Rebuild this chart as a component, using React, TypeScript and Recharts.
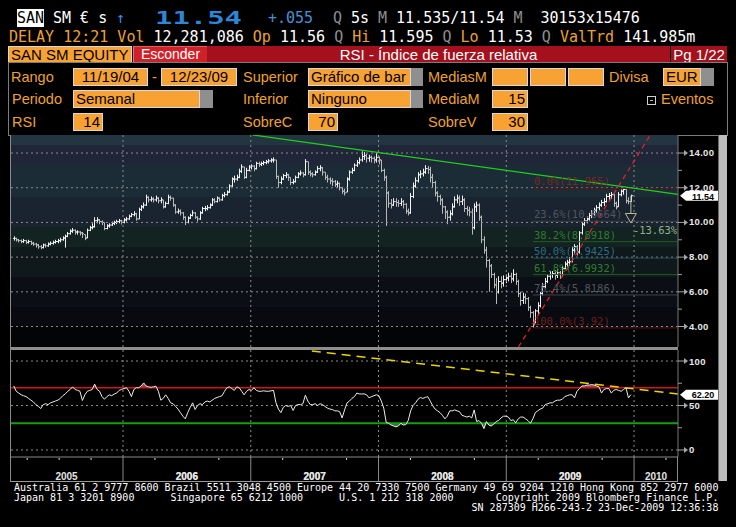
import React from "react";
import {
  ComposedChart, Bar, Line, Area, XAxis, YAxis, ReferenceLine, ReferenceDot,
} from "recharts";

// weekly bars, first one 2005-02-23, last one 2009-12-23
const FIRST_WEEK = "2005-02-23";

const close = [
  9.08, 9.0, 8.95, 8.9, 8.95, 8.85, 8.9, 8.8, 8.75, 8.7,
  8.6, 8.55, 8.7, 8.65, 8.75, 8.8, 8.85, 8.9, 8.95, 9.0,
  9.1, 9.2, 9.35, 9.5, 9.55, 9.45, 9.45, 9.4, 9.35, 9.1,
  9.55, 9.7, 9.75, 10.1, 10.15, 10.05, 10.0, 9.65, 9.8, 9.85,
  9.95, 10.0, 10.05, 10.1, 10.0, 10.15, 10.2, 10.35, 10.45, 10.5,
  10.2, 10.75, 10.9, 11.0, 11.45, 11.3, 11.35, 11.3, 11.4, 11.25,
  11.3, 10.9, 11.1, 11.45, 11.4, 11.0, 10.6, 10.65, 10.55, 10.3,
  10.0, 10.25, 10.4, 10.55, 10.3, 10.2, 10.55, 10.8, 10.8, 10.85,
  11.0, 11.3, 11.2, 11.4, 11.3, 11.55, 11.6, 11.75, 12.1, 12.5,
  12.5, 12.6, 12.95, 13.2, 12.6, 13.0, 13.2, 13.25, 13.1, 13.4,
  13.35, 13.4, 13.45, 13.5, 13.55, 13.6, 13.6, 12.65, 12.3, 12.5,
  12.7, 12.75, 12.6, 12.3, 12.35, 12.6, 12.8, 12.85, 12.75, 13.5,
  12.9, 12.8, 12.75, 12.9, 13.1, 13.15, 12.9, 12.6, 12.5, 12.4,
  12.35, 12.2, 12.25, 12.0, 11.8, 11.7, 12.5, 12.9, 13.0, 13.3,
  13.45, 13.6, 13.8, 13.85, 13.7, 13.75, 13.7, 13.6, 13.75, 13.6,
  13.0, 12.6, 11.7, 11.1, 11.0, 11.2, 11.15, 11.1, 11.2, 11.05,
  10.65, 10.55, 11.5, 12.1, 12.4, 12.75, 12.8, 12.9, 13.1, 13.05,
  12.6, 12.3, 11.7, 11.5, 11.3, 10.9, 10.6, 10.3, 10.5, 10.9,
  11.3, 11.4, 11.2, 11.3, 10.8, 10.7, 10.6, 9.7, 10.9, 11.0,
  10.3, 9.0, 8.4, 7.8, 7.5, 7.0, 6.4, 6.0, 6.6, 6.5,
  6.7, 6.8, 6.9, 6.75, 7.0, 6.6, 5.9, 5.5, 5.7, 5.6,
  5.1, 4.8, 4.1, 4.9, 5.2, 5.9, 6.3, 6.6, 6.9, 7.0,
  7.05, 6.95, 7.1, 7.0, 7.35, 7.6, 7.7, 7.75, 8.4, 8.6,
  8.3, 9.4, 9.9, 10.1, 10.2, 10.4, 10.5, 10.7, 10.85, 11.0,
  11.15, 11.2, 11.5, 11.55, 11.6, 11.1, 10.9, 11.6, 11.8, 11.9,
  11.25, 11.2, 11.54,
];

const high = [
  9.2, 9.12, 9.05, 9.02, 9.05, 9.0, 9.0, 8.95, 8.88, 8.82,
  8.75, 8.7, 8.78, 8.78, 8.85, 8.9, 8.95, 9.0, 9.05, 9.12,
  9.2, 9.3, 9.45, 9.6, 9.68, 9.6, 9.55, 9.5, 9.45, 9.3,
  9.65, 9.8, 9.95, 10.3, 10.3, 10.2, 10.12, 10.0, 9.9, 9.95,
  10.05, 10.1, 10.15, 10.2, 10.15, 10.25, 10.32, 10.45, 10.55, 10.65,
  10.55, 10.85, 11.0, 11.15, 11.6, 11.5, 11.5, 11.45, 11.55, 11.45,
  11.45, 11.3, 11.2, 11.6, 11.55, 11.42, 11.05, 10.8, 10.75, 10.6,
  10.35, 10.35, 10.5, 10.7, 10.6, 10.35, 10.65, 10.9, 10.95, 11.0,
  11.1, 11.4, 11.4, 11.5, 11.45, 11.65, 11.75, 11.85, 12.2, 12.6,
  12.7, 12.75, 13.1, 13.35, 13.2, 13.15, 13.3, 13.35, 13.3, 13.5,
  13.5, 13.5, 13.55, 13.6, 13.65, 13.7, 13.75, 13.6, 12.7, 12.65,
  12.8, 12.9, 12.8, 12.6, 12.5, 12.7, 12.9, 13.0, 12.9, 13.65,
  13.5, 13.0, 12.9, 13.0, 13.25, 13.3, 13.2, 12.9, 12.75, 12.6,
  12.55, 12.45, 12.4, 12.3, 12.05, 11.95, 12.6, 13.0, 13.15, 13.4,
  13.6, 13.75, 14.1, 14.05, 13.95, 13.9, 13.85, 13.8, 14.0, 13.8,
  13.6, 13.1, 12.7, 11.8, 11.35, 11.4, 11.4, 11.3, 11.4, 11.3,
  11.1, 10.8, 11.7, 12.3, 12.6, 12.9, 13.0, 13.1, 13.3, 13.25,
  13.2, 12.8, 12.4, 11.8, 11.6, 11.4, 10.95, 10.7, 10.7, 11.1,
  11.5, 11.6, 11.55, 11.55, 11.4, 10.95, 10.9, 10.8, 11.1, 11.2,
  11.1, 10.4, 9.2, 8.6, 7.9, 7.6, 7.1, 6.8, 6.9, 6.9,
  6.95, 7.0, 7.1, 7.1, 7.3, 7.1, 6.7, 6.0, 5.95, 5.9,
  5.7, 5.2, 4.9, 5.0, 5.4, 6.0, 6.5, 6.8, 7.0, 7.2,
  7.2, 7.25, 7.3, 7.2, 7.5, 7.75, 7.85, 8.0, 8.6, 8.75,
  8.7, 9.5, 10.05, 10.25, 10.35, 10.55, 10.7, 10.85, 11.0, 11.15,
  11.3, 11.4, 11.65, 11.7, 11.75, 11.65, 11.2, 11.75, 11.9, 11.965,
  11.9, 11.45, 11.6,
];

const low = [
  8.95, 8.9, 8.85, 8.8, 8.82, 8.75, 8.78, 8.7, 8.65, 8.55,
  8.48, 8.45, 8.5, 8.55, 8.6, 8.68, 8.72, 8.78, 8.8, 8.85,
  8.95, 8.55, 9.15, 9.3, 9.4, 9.3, 9.3, 9.25, 9.1, 8.98,
  9.1, 9.5, 9.6, 9.7, 9.95, 9.9, 9.85, 9.55, 9.6, 9.7,
  9.8, 9.85, 9.9, 9.95, 9.88, 9.95, 10.05, 10.15, 10.3, 10.35,
  10.1, 10.2, 10.65, 10.8, 10.95, 11.15, 11.2, 11.15, 11.2, 11.1,
  11.1, 10.8, 10.85, 11.05, 11.25, 10.9, 10.5, 10.5, 10.4, 10.15,
  9.85, 9.95, 10.2, 10.35, 10.2, 10.05, 10.15, 10.5, 10.65, 10.7,
  10.8, 10.95, 11.1, 11.15, 11.2, 11.25, 11.45, 11.55, 11.7, 12.05,
  12.3, 12.4, 12.55, 12.85, 12.5, 12.55, 12.95, 13.05, 12.95, 13.05,
  13.2, 13.25, 13.3, 13.35, 13.4, 13.45, 13.45, 12.5, 12.0, 12.2,
  12.45, 12.55, 12.4, 12.15, 12.2, 12.3, 12.55, 12.7, 12.6, 12.7,
  12.75, 12.65, 12.6, 12.7, 12.85, 12.95, 12.7, 12.45, 12.3, 12.2,
  12.1, 12.05, 12.0, 11.85, 11.65, 11.55, 11.75, 12.4, 12.8, 12.95,
  13.2, 13.35, 13.5, 13.6, 13.45, 13.5, 13.45, 13.4, 13.45, 13.35,
  12.9, 12.4, 9.8, 10.85, 10.8, 10.95, 10.9, 10.9, 10.95, 10.8,
  10.5, 10.4, 10.5, 11.4, 12.0, 12.3, 12.55, 12.65, 12.8, 12.8,
  12.3, 12.0, 11.5, 11.2, 11.0, 10.5, 10.2, 9.9, 10.1, 10.4,
  10.85, 11.1, 10.95, 11.0, 10.6, 10.4, 10.35, 9.3, 9.6, 10.6,
  10.1, 8.8, 8.2, 7.4, 6.0, 6.8, 6.2, 5.3, 5.9, 6.2,
  6.3, 6.5, 6.6, 6.5, 6.6, 6.4, 5.7, 5.2, 5.3, 5.3,
  4.9, 4.5, 3.92, 4.2, 4.7, 5.1, 5.8, 6.2, 6.5, 6.7,
  6.8, 6.7, 6.8, 6.75, 6.9, 7.3, 7.45, 7.5, 7.7, 8.2,
  8.1, 8.2, 9.3, 9.8, 9.95, 10.1, 10.25, 10.4, 10.55, 10.7,
  10.9, 10.95, 11.15, 11.3, 11.35, 10.9, 10.75, 10.9, 11.5, 11.6,
  11.1, 11.05, 11.2,
];

const rsi = [
  72, 66, 64, 62, 61, 60, 58, 56, 54, 51,
  49, 46.6, 51, 52, 51, 53, 54, 55, 56, 58,
  61, 63, 66, 68, 71, 68, 67, 66, 55.6, 62,
  66, 67, 68, 74, 68, 66, 60, 57, 60, 62,
  61, 63, 64, 67, 68, 69, 70, 66, 60, 68,
  70, 70, 72, 75.4, 72, 71, 70.5, 71, 71.7, 66,
  56, 58, 62, 58, 53, 52, 49, 46, 42, 38,
  35, 42, 48, 53, 45.5, 50, 52, 51, 54, 55,
  54, 56, 58, 59, 60, 61, 66, 70, 71, 69,
  67, 71, 70, 66, 62, 66, 68, 67, 70, 67,
  66, 66, 66.5, 66, 66, 66.5, 67, 53, 46, 42,
  48, 50, 49, 50, 44.4, 50, 51, 51, 52, 61.6,
  55, 51, 51, 52, 50, 52, 51, 49, 47, 46,
  45.5, 44, 44, 43, 36, 45, 53, 55, 58, 60,
  64, 63, 63, 63, 62, 58.6, 60, 61, 62, 61,
  55, 47, 31, 30, 28, 27, 26, 27, 30, 28,
  28.5, 33, 44, 50, 53, 57, 59, 58, 59, 60,
  55, 50, 46, 44, 42, 39, 35, 38, 44, 44,
  45, 44, 43, 39, 38, 37, 38, 36, 45, 32,
  33, 30, 24, 32, 28, 27, 29, 32, 33, 36,
  38, 38, 37, 33, 34, 30.5, 35, 37, 37, 35,
  33, 30, 35, 42, 44, 46, 47, 51, 52, 53,
  53, 55, 56, 56, 57, 60, 61, 62, 62, 58.6,
  66, 69, 72, 72, 73, 73, 73.5, 73, 72, 71,
  64, 68, 69, 69, 64, 67, 68, 67, 66, 68,
  70, 58.6, 62.2,
];

const YEAR_LINES = [2006, 2007, 2008, 2009, 2010];
const YEAR_LABELS = ["2005", "2006", "2007", "2008", "2009", "2010"];
const PRICE_GRID = [4, 6, 8, 10, 12, 14];
const PRICE_TICKS = [4, 5, 6, 7, 8, 9, 10, 11, 12, 13, 14];
const RSI_GRID = [0, 50, 100];
const RSI_TICKS = [0, 25, 50, 75, 100];
const RSI_OVER = 70;
const RSI_UNDER = 30;
const FIB_HIGH = 11.965;
const FIB_LOW = 3.92;
const FIB_RATIOS = [0, 23.6, 38.2, 50, 61.8, 76.4, 100];
const FIB_LINE = ["#5e1212", "#3c4249", "#1d5e1d", "#23485a", "#1d5e1d", "#3c4249", "#5e1212"];
const FIB_TEXT = ["#7c2620", "#4f565e", "#2e7c2e", "#2b6c86", "#2e7c2e", "#4f565e", "#6e1e1c"];
const DROP_PCT = -13.63;
// trend lines: [decimal year, value]
const RESIST = [[2007.017, 15.04], [2010.344, 11.62]];
const SUPPORT = [[2009.095, 2.82], [2010.127, 15.04]];
const RSI_RESIST = [[2007.478, 111.2], [2010.344, 62.9]];

const X_DOMAIN: [number, number] = [2005.1155, 2010.344];
const P_DOMAIN: [number, number] = [2.82, 15.04];
const R_DOMAIN: [number, number] = [-7.9, 112.4];

const MONO = '"DejaVu Sans Mono", monospace';
const SANS = '"Liberation Sans", Arial, sans-serif';
const AMBER = "#eca22f";
const ORANGE = "#f8a234";
const QGRAY = "#8e8e8e";

function decYear(ms: number) {
  const y = new Date(ms).getUTCFullYear();
  const a = Date.UTC(y, 0, 1);
  const b = Date.UTC(y + 1, 0, 1);
  return y + (ms - a) / (b - a);
}

const t0 = Date.parse(FIRST_WEEK + "T00:00:00Z");
const data = close.map((c, i) => ({
  t: decYear(t0 + i * 7 * 86400000),
  close: c,
  open: i ? close[i - 1] : c,
  hi: high[i],
  lo: low[i],
  range: [low[i], high[i]],
  rsi: rsi[i],
  over: [RSI_OVER, Math.max(rsi[i], RSI_OVER)],
  under: [Math.min(rsi[i], RSI_UNDER), RSI_UNDER],
}));

const last = data[data.length - 1];
const lowIdx = low.indexOf(Math.min(...low));
const tLow = data[lowIdx].t;
const dropTarget = last.close * (1 + DROP_PCT / 100);

const fib = FIB_RATIOS.map((r, i) => {
  const v = FIB_HIGH - ((FIB_HIGH - FIB_LOW) * r) / 100;
  return { v, label: `${r.toFixed(1)}%(${String(Number(v.toFixed(4)))})`, line: FIB_LINE[i], text: FIB_TEXT[i] };
});

const bounds = [X_DOMAIN[0], ...YEAR_LINES, X_DOMAIN[1]];
const labelPos = YEAR_LABELS.map((label, i) => ({ label, t: (bounds[i] + bounds[i + 1]) / 2 }));
const quarterTicks: number[] = [];
[2005, 2006, 2007, 2008, 2009, 2010].forEach((y) =>
  [0.25, 0.5, 0.75].forEach((q) => {
    if (y + q > X_DOMAIN[0] && y + q < X_DOMAIN[1]) quarterTicks.push(y + q);
  })
);
const timeTicks = [...YEAR_LINES, ...quarterTicks, ...labelPos.map((l) => l.t)];

function OhlcShape(props: any) {
  const { x, y, width, height, payload } = props;
  if (x == null || y == null) return null;
  const top = Math.min(y, y + height);
  const h = Math.abs(height);
  const cx = Math.round(x + width / 2) + 0.5;
  const span = payload.hi - payload.lo || 1;
  const at = (v: number) => top + ((payload.hi - Math.min(Math.max(v, payload.lo), payload.hi)) / span) * h;
  const col = payload.close >= payload.open ? "#f2f2f2" : "#b9b9b9";
  return (
    <path
      d={`M${cx},${top}V${top + Math.max(h, 1)}M${cx - 1.5},${at(payload.open)}H${cx}M${cx},${at(payload.close)}H${cx + 1.5}`}
      stroke={col}
      strokeWidth={1}
      fill="none"
    />
  );
}

function PriceTick(p: any) {
  const { x, y, payload } = p;
  const v = payload.value as number;
  if (v % 2) return <line x1={x} x2={x + 4} y1={y} y2={y} stroke="#9a9a9a" />;
  return (
    <g>
      <path d={`M${x},${y}H${x + 8}`} stroke="#a5a5a5" />
      <path d={`M${x + 6},${y - 3}L${x + 10},${y}L${x + 6},${y + 3}Z`} fill="#a5a5a5" />
      <text x={x + 11} y={y + 3} fill="#e8e8e8" fontSize={9.5} fontWeight="bold" fontFamily={SANS} letterSpacing={0.3}>
        {v.toFixed(2)}
      </text>
    </g>
  );
}

function RsiTick(p: any) {
  const { x, y, payload } = p;
  const v = payload.value as number;
  if (v % 50) return <line x1={x} x2={x + 4} y1={y} y2={y} stroke="#9a9a9a" />;
  return (
    <g>
      <path d={`M${x},${y}H${x + 8}`} stroke="#a5a5a5" />
      <path d={`M${x + 6},${y - 3}L${x + 10},${y}L${x + 6},${y + 3}Z`} fill="#a5a5a5" />
      <text x={x + 11} y={y + 3.5} fill="#e8e8e8" fontSize={9.5} fontWeight="bold" fontFamily={SANS} letterSpacing={0.3}>
        {v}
      </text>
    </g>
  );
}

function TimeTick(p: any) {
  const { x, y, payload } = p;
  const v = payload.value as number;
  if (YEAR_LINES.includes(v)) return <line x1={x} x2={x} y1={y} y2={y + 25} stroke="#8a8a8a" />;
  const lab = labelPos.find((l) => l.t === v);
  if (lab)
    return (
      <text x={x} y={y + 23} textAnchor="middle" fill="#e4e4e4" fontSize={10} fontWeight="bold" fontFamily={SANS}>
        {lab.label}
      </text>
    );
  return <line x1={x} x2={x} y1={y + 1} y2={y + 3} stroke="#dcdcdc" />;
}

const tag = (text: string, dy: number) => (p: any) => {
  const { cx, cy } = p;
  return (
    <g>
      <path d={`M${cx + 2},${cy}L${cx + 8},${cy - 5}H${cx + 40}V${cy + 5}H${cx + 8}Z`} fill="#ffffff" />
      <text x={cx + 25} y={cy + dy} textAnchor="middle" fill="#000" fontSize={9} fontWeight="bold" fontFamily={SANS}>
        {text}
      </text>
    </g>
  );
};

const dotGrid = { stroke: "#8c8c8c", strokeDasharray: "2 3", strokeWidth: 1 };

function PriceChart() {
  return (
    <ComposedChart width={720} height={212} data={data} margin={{ top: 0, right: 2, bottom: 0, left: 10 }}>
      <XAxis type="number" dataKey="t" domain={X_DOMAIN} allowDataOverflow hide />
      <YAxis
        orientation="right" type="number" width={40} domain={P_DOMAIN} allowDataOverflow
        ticks={PRICE_TICKS} interval={0} tick={PriceTick} tickLine={false} tickSize={0} tickMargin={0}
        axisLine={{ stroke: "#777" }}
      />
      {PRICE_GRID.map((v) => <ReferenceLine key={"h" + v} y={v} {...dotGrid} />)}
      {YEAR_LINES.map((v) => <ReferenceLine key={"v" + v} x={v} {...dotGrid} />)}
      {fib.map((f) => (
        <ReferenceLine key={"f" + f.v} segment={[{ x: tLow, y: f.v }, { x: X_DOMAIN[1], y: f.v }]} stroke={f.line} strokeWidth={1} />
      ))}
      {fib.map((f) => (
        <ReferenceDot
          key={"fl" + f.v} x={tLow} y={f.v} r={0}
          shape={(p: any) => (
            <text x={p.cx + 1} y={p.cy - 3} fill={f.text} fontSize={10.5} fontFamily={MONO}>{f.label}</text>
          )}
        />
      ))}
      <Bar dataKey="range" barSize={2} shape={OhlcShape} isAnimationActive={false} />
      <ReferenceLine
        segment={[{ x: RESIST[0][0], y: RESIST[0][1] }, { x: RESIST[1][0], y: RESIST[1][1] }]}
        stroke="#1fcf1f" strokeWidth={1.3} ifOverflow="hidden"
      />
      <ReferenceLine
        segment={[{ x: SUPPORT[0][0], y: SUPPORT[0][1] }, { x: SUPPORT[1][0], y: SUPPORT[1][1] }]}
        stroke="#e22020" strokeWidth={1.3} strokeDasharray="5 4" ifOverflow="hidden"
      />
      <ReferenceLine segment={[{ x: last.t, y: last.close }, { x: last.t, y: dropTarget }]} stroke="#b7bd92" strokeWidth={1} />
      <ReferenceDot
        x={last.t} y={dropTarget} r={0} ifOverflow="visible"
        shape={(p: any) => (
          <g>
            <path d={`M${p.cx},${p.cy}L${p.cx - 5.5},${p.cy - 9.5}H${p.cx + 5.5}Z`} fill="#1a2431" stroke="#b7bd92" strokeWidth={1} />
            <text x={p.cx + 2} y={p.cy + 11} fill="#92b08c" fontSize={10.5} fontFamily={MONO}>{`${DROP_PCT}%`}</text>
          </g>
        )}
      />
      <ReferenceDot x={X_DOMAIN[1]} y={last.close} r={0} ifOverflow="visible" shape={tag(last.close.toFixed(2), 4.5)} />
    </ComposedChart>
  );
}

function RsiChart() {
  return (
    <ComposedChart width={720} height={132} data={data} margin={{ top: 0, right: 2, bottom: 0, left: 10 }}>
      <XAxis
        type="number" dataKey="t" domain={X_DOMAIN} allowDataOverflow ticks={timeTicks} interval={0}
        tick={TimeTick} tickLine={false} tickSize={0} tickMargin={0} height={25} axisLine={{ stroke: "#8a8a8a" }}
      />
      <YAxis
        orientation="right" type="number" width={40} domain={R_DOMAIN} allowDataOverflow
        ticks={RSI_TICKS} interval={0} tick={RsiTick} tickLine={false} tickSize={0} tickMargin={0}
        axisLine={{ stroke: "#777" }}
      />
      {RSI_GRID.map((v) => <ReferenceLine key={"h" + v} y={v} {...dotGrid} />)}
      {YEAR_LINES.map((v) => <ReferenceLine key={"v" + v} x={v} {...dotGrid} />)}
      <Area dataKey="over" type="linear" fill="#a5504c" fillOpacity={0.9} stroke="none" isAnimationActive={false} />
      <Area dataKey="under" type="linear" fill="#2c8c2c" fillOpacity={0.9} stroke="none" isAnimationActive={false} />
      <ReferenceLine y={RSI_OVER} stroke="#d41414" strokeWidth={1.5} />
      <ReferenceLine y={RSI_UNDER} stroke="#13a013" strokeWidth={2} />
      <Line dataKey="rsi" type="linear" stroke="#ececec" strokeWidth={1} dot={false} isAnimationActive={false} />
      <ReferenceLine
        segment={[{ x: RSI_RESIST[0][0], y: RSI_RESIST[0][1] }, { x: RSI_RESIST[1][0], y: RSI_RESIST[1][1] }]}
        stroke="#e8d400" strokeWidth={1.5} strokeDasharray="9 6" ifOverflow="hidden"
      />
      <ReferenceDot x={X_DOMAIN[1]} y={last.rsi} r={0} ifOverflow="visible" shape={tag(last.rsi.toFixed(2), 3.3)} />
    </ComposedChart>
  );
}

const abs = (left: number, top: number, extra: React.CSSProperties = {}): React.CSSProperties => ({
  position: "absolute", left, top, whiteSpace: "pre", ...extra,
});

function Lbl({ x, y, children }: { x: number; y: number; children: React.ReactNode }) {
  return <div style={abs(x, y, { color: AMBER, fontFamily: SANS, fontSize: 14.5, lineHeight: "18px" })}>{children}</div>;
}

function Field({ x, y, w, text = "", align = "left", drop = 0 }: { x: number; y: number; w: number; text?: string; align?: any; drop?: number }) {
  return (
    <>
      <div
        style={abs(x, y, {
          width: w, height: 18, boxSizing: "border-box", background: ORANGE, border: "1px solid #d8d8d8",
          color: "#000", fontFamily: SANS, fontSize: 15, lineHeight: "16px", textAlign: align,
          padding: "0 2px", overflow: "hidden",
        })}
      >
        {text}
      </div>
      {drop ? <div style={abs(x + w, y, { width: drop, height: 18, background: "#8f8f8f" })} /> : null}
    </>
  );
}

const headerMono: React.CSSProperties = { fontFamily: MONO, fontSize: 15, lineHeight: "18px" };

export default function App() {
  return (
    <div style={{ position: "fixed", left: 0, top: 0, width: 736, height: 527, background: "#000", overflow: "hidden" }}>
      {/* quote lines */}
      <div style={abs(17, 9, { ...headerMono, width: 27, height: 18, background: "#fff", color: "#000" })}>SAN</div>
      <div style={abs(53, 9, { ...headerMono, color: "#fff" })}>SM € s</div>
      <div style={abs(116, 9, { ...headerMono, color: "#3d8fe0" })}>↑</div>
      <div
        style={abs(155, 9, {
          fontFamily: MONO, fontSize: 17, lineHeight: "18px", fontWeight: "bold", color: "#2d86d8",
          transform: "scaleX(1.7)", transformOrigin: "left top",
        })}
      >
        11.54
      </div>
      <div style={abs(268, 9, { ...headerMono, color: "#4a90d8" })}>+.055</div>
      <div style={abs(333, 9, { ...headerMono, color: "#fff" })}>
        <span style={{ color: QGRAY }}>Q</span> 5s
      </div>
      <div style={abs(378, 9, { ...headerMono, color: "#fff" })}>
        <span style={{ color: QGRAY }}>M</span> 11.535/11.54 <span style={{ color: QGRAY }}>M</span>  30153x15476
      </div>
      <div style={abs(9, 27.5, { ...headerMono, color: "#fff" })}>
        <span style={{ color: AMBER }}>DELAY 12:21 Vol </span>12,281,086 <span style={{ color: AMBER }}>Op </span>11.56{" "}
        <span style={{ color: QGRAY }}>Q </span><span style={{ color: AMBER }}>Hi </span>11.595{" "}
        <span style={{ color: QGRAY }}>Q </span><span style={{ color: AMBER }}>Lo </span>11.53{" "}
        <span style={{ color: QGRAY }}>Q </span><span style={{ color: AMBER }}>ValTrd </span>141.985m
      </div>

      {/* title bar */}
      <div
        style={abs(8, 46, {
          width: 124, height: 17, boxSizing: "border-box", background: ORANGE, border: "1px solid #d8d8d8",
          fontFamily: SANS, fontSize: 15, lineHeight: "15px", color: "#000", paddingLeft: 2,
        })}
      >
        SAN SM EQUITY
      </div>
      <div
        style={abs(133, 46, {
          width: 74, height: 17, boxSizing: "border-box", background: "#cf2129", borderLeft: "1px solid #f07070",
          borderTop: "1px solid #e85a5a", fontFamily: SANS, fontSize: 14, lineHeight: "15px", color: "#fff", textAlign: "center",
        })}
      >
        Esconder
      </div>
      <div
        style={abs(207, 46, {
          width: 463, height: 17, background: "#a4111d", fontFamily: SANS, fontSize: 15, lineHeight: "17px",
          color: "#fff", textAlign: "center",
        })}
      >
        RSI - Índice de fuerza relativa
      </div>
      <div
        style={abs(671, 46, {
          width: 56, height: 17, background: "#a4111d", fontFamily: SANS, fontSize: 15, lineHeight: "17px",
          color: "#fff", textAlign: "center",
        })}
      >
        Pg 1/22
      </div>

      {/* settings form */}
      <div style={abs(8, 62, { width: 718, height: 72, border: "1px solid #7c7c7c" })} />
      <Lbl x={11} y={68}>Rango</Lbl>
      <Field x={73} y={68} w={75} text="11/19/04" align="center" />
      <Lbl x={152} y={68}>-</Lbl>
      <Field x={161} y={68} w={76} text="12/23/09" align="center" />
      <Lbl x={243} y={68}>Superior</Lbl>
      <Field x={308} y={68} w={103} text="Gráfico de bar" drop={12} />
      <Lbl x={428} y={68}>MediasM</Lbl>
      <Field x={492} y={68} w={36} />
      <Field x={530} y={68} w={36} />
      <Field x={568} y={68} w={36} />
      <Lbl x={609} y={68}>Divisa</Lbl>
      <Field x={663} y={68} w={38} text="EUR" drop={13} />

      <Lbl x={12} y={90}>Periodo</Lbl>
      <Field x={73} y={90} w={127} text="Semanal" drop={13} />
      <Lbl x={243} y={90}>Inferior</Lbl>
      <Field x={308} y={90} w={103} text="Ninguno" drop={12} />
      <Lbl x={428} y={90}>MediaM</Lbl>
      <Field x={492} y={90} w={36} text="15" align="right" />
      <div style={abs(647, 96, { width: 9, height: 9, boxSizing: "border-box", border: "1px solid #d0d0d0" })}>
        <div style={abs(2, 3, { width: 3, height: 1, background: "#bbb" })} />
      </div>
      <Lbl x={661} y={90}>Eventos</Lbl>

      <Lbl x={12} y={113}>RSI</Lbl>
      <Field x={73} y={113} w={30} text="14" align="right" />
      <Lbl x={243} y={113}>SobreC</Lbl>
      <Field x={308} y={113} w={30} text="70" align="right" />
      <Lbl x={428} y={113}>SobreV</Lbl>
      <Field x={492} y={113} w={36} text="30" align="right" />

      {/* chart panels */}
      <div
        style={abs(10, 135, {
          width: 668, height: 212,
          background:
            "linear-gradient(to bottom, #233540 0px, #233540 10px, #1f2638 10px, #1f2638 30px, #1b2c36 30px, #1b2c36 62px, #1a2330 62px, #1a2330 92px, #132322 92px, #132322 112px, #0f181b 112px, #0f181b 142px, #0c0e16 142px, #0c0e16 172px, #090a10 172px, #090a10 192px, #030405 192px)",
        })}
      />
      <div style={abs(0, 135)}>
        <PriceChart />
      </div>
      <div style={abs(10, 347, { width: 668, height: 3, background: "#8e8e8e" })} />
      <div style={abs(0, 350)}>
        <RsiChart />
      </div>
      <div style={abs(10, 481, { width: 668, height: 1, background: "#9a9a9a" })} />
      <div style={abs(10, 135, { width: 1, height: 347, background: "#8a8a8a" })} />
      <div style={abs(677, 457, { width: 1, height: 25, background: "#8a8a8a" })} />
      <div style={abs(718, 135, { width: 8, height: 346, background: "#bdbdbd", borderLeft: "1px solid #6a6a6a" })} />

      {/* footer */}
      <div style={abs(14, 483, { fontFamily: MONO, fontSize: 10, lineHeight: "10px", color: "#fff" })}>
        {"Australia 61 2 9777 8600 Brazil 5511 3048 4500 Europe 44 20 7330 7500 Germany 49 69 9204 1210 Hong Kong 852 2977 6000\n" +
          "Japan 81 3 3201 8900      Singapore 65 6212 1000      U.S. 1 212 318 2000       Copyright 2009 Bloomberg Finance L.P.\n" +
          "                                                                            SN 287309 H266-243-2 23-Dec-2009 12:36:38"}
      </div>
    </div>
  );
}
